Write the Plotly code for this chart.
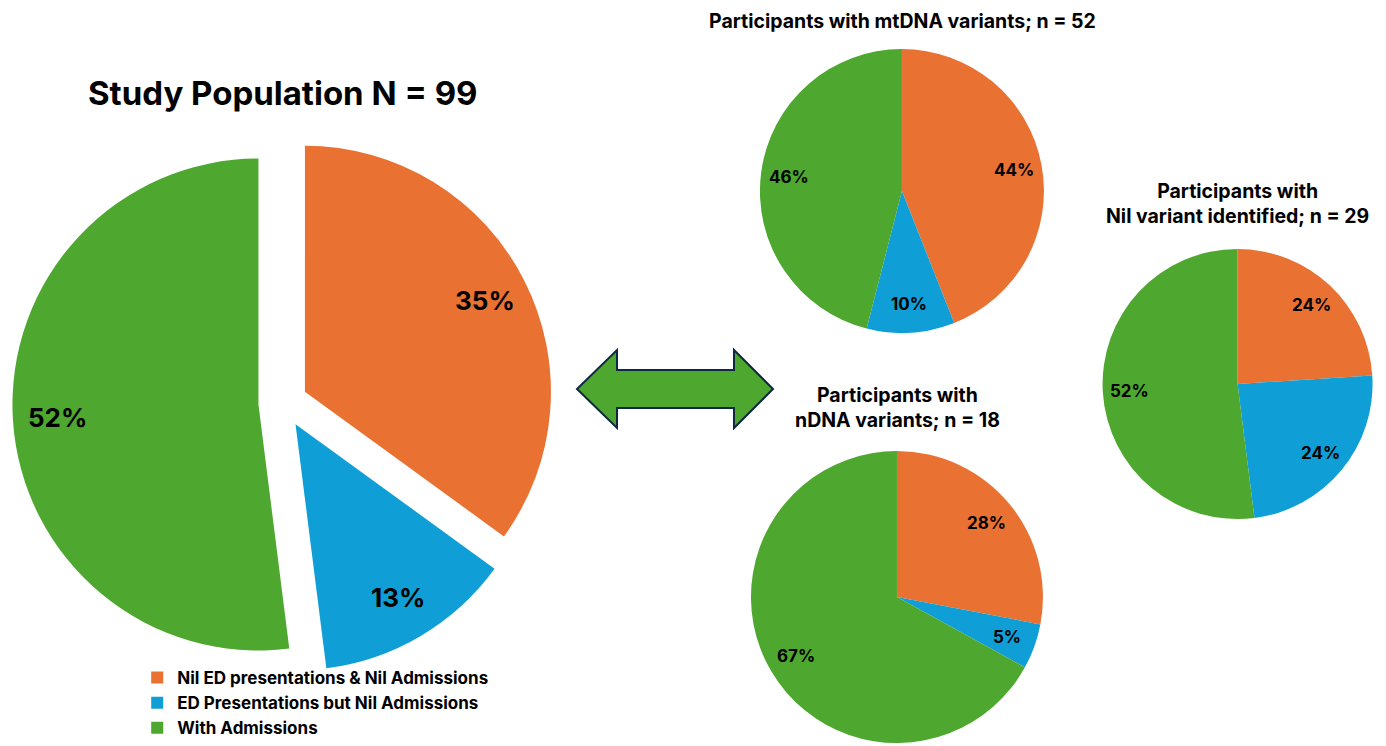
import math
import plotly.graph_objects as go

W, H = 1386, 746

labels = ["Nil ED presentations & Nil Admissions",
          "ED Presentations but Nil Admissions",
          "With Admissions"]
colors = ["#E97132", "#0F9ED5", "#4EA72E"]

study_pct = [35, 13, 52]
mtdna_pct = [44, 10, 46]
ndna_pct = [28, 5, 67]
nil_pct = [24, 24, 52]

study_title = "Study Population N = 99"
mtdna_title = "Participants with mtDNA variants; n = 52"
ndna_title = "Participants with<br>nDNA variants; n = 18"
nil_title = "Participants with<br>Nil variant identified; n = 29"

FONT = "Inter"

pies = [
    dict(vals=study_pct, dom=dict(x=[0.00895, 0.39942], y=[0.09705, 0.82252]), pull=0.1,
         fs=26, frac=0.82, legend=True),
    dict(vals=mtdna_pct, dom=dict(x=[0.5483, 0.7532], y=[0.5536, 0.9343]), pull=0.0,
         fs=17, frac=0.8, legend=False),
    dict(vals=ndna_pct, dom=dict(x=[0.5418, 0.7525], y=[0.0040, 0.3954]), pull=0.0,
         fs=17, frac=0.8, legend=False),
    dict(vals=nil_pct, dom=dict(x=[0.7955, 0.9903], y=[0.3043, 0.6662]), pull=0.0,
         fs=17, frac=0.8, legend=False),
]

fig = go.Figure()
annotations = []


def pie_geom(dom, pull):
    bw = W * (dom["x"][1] - dom["x"][0])
    bh = H * (dom["y"][1] - dom["y"][0])
    r = min(bw, bh) / 2 / (1 + pull)
    cx = W * (dom["x"][0] + dom["x"][1]) / 2
    cy = H * (1 - dom["y"][0]) - bh / 2
    return cx, cy, r


for p in pies:
    fig.add_trace(go.Pie(
        labels=labels, values=p["vals"], sort=False, direction="clockwise", rotation=0,
        pull=[p["pull"]] * len(p["vals"]),
        marker=dict(colors=colors, line=dict(width=0)),
        textinfo="none", hoverinfo="label+value",
        domain=p["dom"], showlegend=p["legend"],
    ))
    cx, cy, r = pie_geom(p["dom"], p["pull"])
    total = sum(p["vals"])
    cum = 0
    for v in p["vals"]:
        mid = (cum + v / 2) / total * 2 * math.pi
        cum += v
        px = cx + (p["pull"] * r + p["frac"] * r) * math.sin(mid)
        py = cy - (p["pull"] * r + p["frac"] * r) * math.cos(mid)
        annotations.append(dict(
            x=px / W, y=1 - py / H, xref="paper", yref="paper",
            text=f"<b>{v}%</b>", showarrow=False,
            font=dict(family=FONT, size=p["fs"], color="black"),
            xanchor="center", yanchor="middle"))

# titles
annotations += [
    dict(x=283 / W, y=1 - 93 / H, text=f"<b>{study_title}</b>",
         font=dict(family=FONT, size=33, color="black")),
    dict(x=902 / W, y=1 - 21 / H, text=f"<b>{mtdna_title}</b>",
         font=dict(family=FONT, size=19.5, color="black")),
    dict(x=897 / W, y=1 - 407 / H, text=f"<b>{ndna_title}</b>",
         font=dict(family=FONT, size=19.5, color="black")),
    dict(x=1237 / W, y=1 - 203 / H, text=f"<b>{nil_title}</b>",
         font=dict(family=FONT, size=19.5, color="black")),
]
for a in annotations[-4:]:
    a.update(xref="paper", yref="paper", showarrow=False, xanchor="center", yanchor="middle")

# double-headed arrow
pts = [(577, 389), (617, 350), (617, 370), (734, 370), (734, 350), (773, 389),
       (734, 428), (734, 408), (617, 408), (617, 428)]
path = "M " + " L ".join(f"{x / W:.5f},{1 - y / H:.5f}" for x, y in pts) + " Z"

fig.update_layout(
    width=W, height=H, margin=dict(l=0, r=0, t=0, b=0),
    paper_bgcolor="white", plot_bgcolor="white",
    annotations=annotations,
    shapes=[dict(type="path", path=path, xref="paper", yref="paper",
                 fillcolor="#4EA72E", line=dict(color="#0E2841", width=2))],
    legend=dict(x=0.099, y=0.0, xanchor="left", yanchor="bottom",
                font=dict(family=FONT, size=17, color="black", weight="bold"),
                tracegroupgap=0, bgcolor="rgba(0,0,0,0)"),
)

fig.write_html("out.html")
